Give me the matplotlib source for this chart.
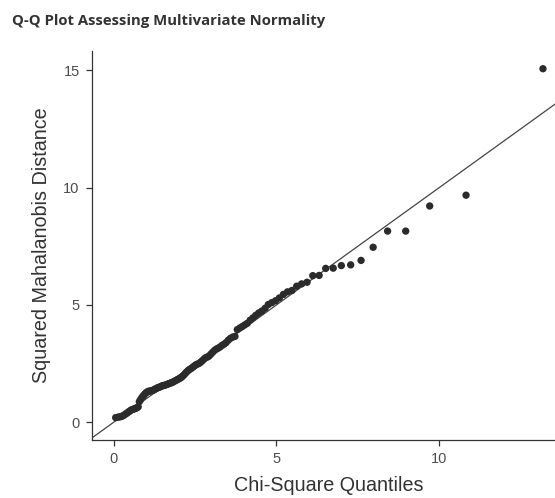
import matplotlib.pyplot as plt

# chi-square quantiles (df = 3) and the sorted squared mahalanobis distances
chisq_q = [0.064, 0.134, 0.193, 0.243, 0.290, 0.334, 0.377, 0.418, 0.458, 0.497,
           0.535, 0.573, 0.610, 0.647, 0.683, 0.720, 0.755, 0.790, 0.826, 0.861,
           0.896, 0.931, 0.967, 1.002, 1.037, 1.072, 1.107, 1.143, 1.177, 1.213,
           1.248, 1.284, 1.319, 1.355, 1.391, 1.427, 1.464, 1.500, 1.537, 1.574,
           1.612, 1.649, 1.687, 1.725, 1.763, 1.802, 1.841, 1.881, 1.921, 1.961,
           2.002, 2.043, 2.084, 2.126, 2.169, 2.212, 2.255, 2.300, 2.343, 2.388,
           2.434, 2.480, 2.527, 2.575, 2.624, 2.672, 2.722, 2.773, 2.825, 2.879,
           2.929, 2.984, 3.039, 3.096, 3.153, 3.211, 3.271, 3.332, 3.395, 3.458,
           3.523, 3.590, 3.657, 3.728, 3.800, 3.876, 3.950, 4.028, 4.108, 4.195,
           4.278, 4.366, 4.458, 4.553, 4.654, 4.752, 4.860, 4.974, 5.091, 5.216,
           5.342, 5.480, 5.624, 5.777, 5.943, 6.119, 6.314, 6.516, 6.746, 6.996,
           7.283, 7.602, 7.973, 8.417, 8.973, 9.710, 10.827, 13.190]

mahal_d2 = [0.20, 0.22, 0.23, 0.25, 0.28, 0.32, 0.36, 0.40, 0.44, 0.48,
            0.52, 0.54, 0.56, 0.58, 0.60, 0.62, 0.66, 0.88, 0.96, 1.04,
            1.10, 1.16, 1.22, 1.26, 1.30, 1.32, 1.33, 1.34, 1.35, 1.37,
            1.39, 1.42, 1.45, 1.47, 1.49, 1.51, 1.53, 1.56, 1.57, 1.58,
            1.60, 1.62, 1.64, 1.66, 1.68, 1.70, 1.73, 1.76, 1.79, 1.82,
            1.85, 1.88, 1.92, 1.97, 2.03, 2.10, 2.16, 2.22, 2.26, 2.30,
            2.35, 2.40, 2.45, 2.48, 2.51, 2.56, 2.62, 2.69, 2.75, 2.78,
            2.82, 2.90, 2.98, 3.06, 3.12, 3.16, 3.21, 3.28, 3.33, 3.40,
            3.50, 3.58, 3.63, 3.66, 3.95, 4.02, 4.08, 4.15, 4.22, 4.35,
            4.45, 4.56, 4.66, 4.74, 4.86, 5.02, 5.10, 5.18, 5.30, 5.45,
            5.56, 5.62, 5.80, 5.90, 5.97, 6.25, 6.26, 6.56, 6.57, 6.68,
            6.71, 6.90, 7.46, 8.15, 8.15, 9.22, 9.68, 15.07]

xticks = [0, 5, 10]
yticks = [0, 5, 10, 15]

plt.rcParams['font.family'] = ['Liberation Sans', 'DejaVu Sans']

fig = plt.figure(figsize=(5.55, 4.98), dpi=100)
# axes run past the right edge of the figure on purpose
ax = fig.add_axes([0.166, 0.1165, 0.851, 0.781])

ax.scatter(chisq_q, mahal_d2, s=28, color='#2b2b2b', edgecolors='none', zorder=3)
# reference line y = x
ax.axline((0, 0), slope=1, color='#444444', linewidth=0.9, zorder=2)

ax.margins(0.05)
ax.set_xticks(xticks)
ax.set_yticks(yticks)

for side in ['top', 'right']:
    ax.spines[side].set_visible(False)
for side in ['left', 'bottom']:
    ax.spines[side].set_color('#333333')
    ax.spines[side].set_linewidth(0.9)

ax.tick_params(axis='both', length=4, width=0.9, color='#333333',
               labelcolor='#4d4d4d', labelsize=10.5, pad=5)

ax.set_xlabel('Chi-Square Quantiles', fontsize=14.2, color='#333333', labelpad=7)
ax.set_ylabel('Squared Mahalanobis Distance', fontsize=14.2, color='#333333', labelpad=9)

fig.text(0.022, 0.958, 'Q-Q Plot Assessing Multivariate Normality',
         fontsize=10.7, fontweight='bold', color='#333333', family='Open Sans',
         ha='left', va='center')

fig.savefig('out.png', dpi=100)
